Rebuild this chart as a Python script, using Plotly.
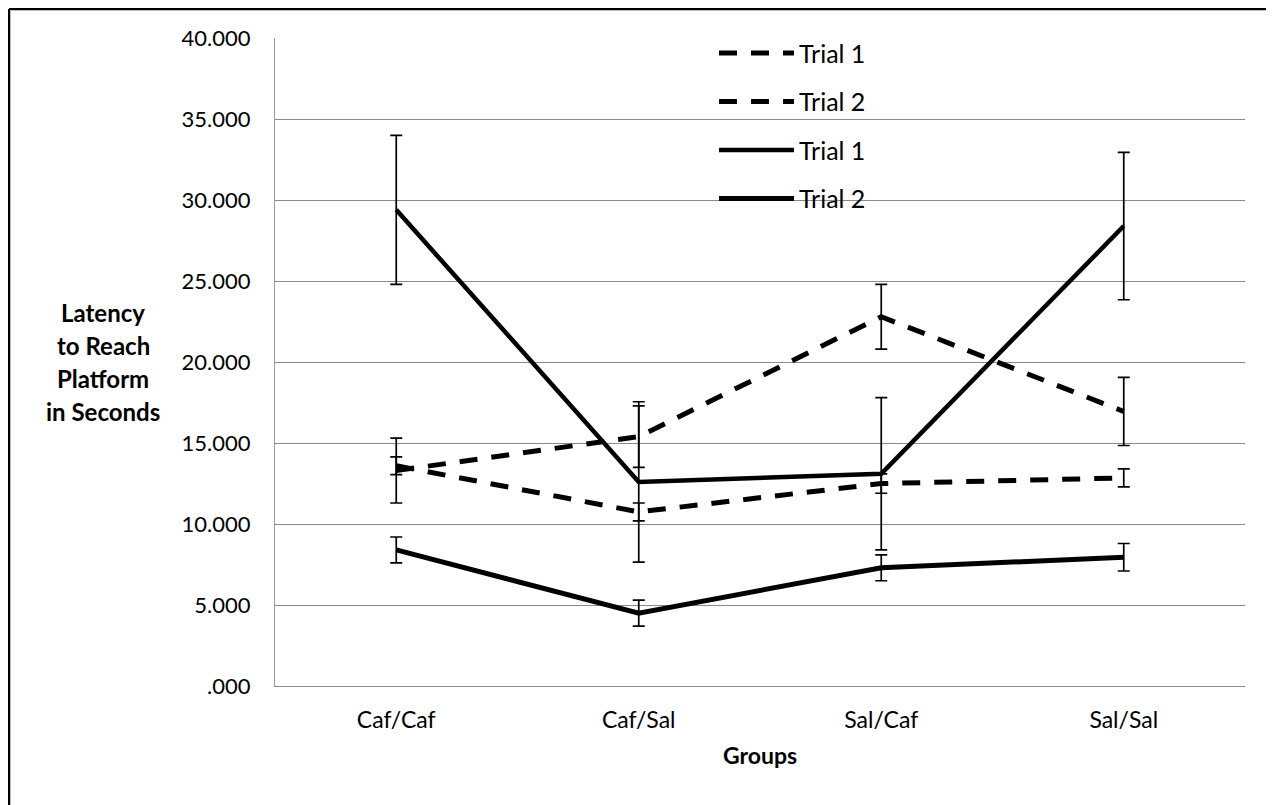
import plotly.graph_objects as go

groups = ["Caf/Caf", "Caf/Sal", "Sal/Caf", "Sal/Sal"]

# dashed series
dashed_trial1 = [13.3, 15.4, 22.8, 16.95]
dashed_trial1_err = [2.0, 1.9, 2.0, 2.1]
dashed_trial2 = [13.6, 10.75, 12.5, 12.85]
dashed_trial2_err = [0.55, 0.55, 0.6, 0.55]

# solid series
solid_trial1 = [29.4, 12.6, 13.1, 28.4]
solid_trial1_err = [4.6, 4.95, 4.7, 4.55]
solid_trial2 = [8.4, 4.5, 7.3, 7.95]
solid_trial2_err = [0.8, 0.8, 0.8, 0.85]

y_ticks = [0, 5, 10, 15, 20, 25, 30, 35, 40]
y_ticktext = [".000", "5.000", "10.000", "15.000", "20.000", "25.000", "30.000", "35.000", "40.000"]

FONT = "Lato, 'Open Sans', sans-serif"

series = [
    ("Trial 1", dashed_trial1, dashed_trial1_err, "18px,14px", 5),
    ("Trial 2", dashed_trial2, dashed_trial2_err, "18px,14px", 5),
    ("Trial 1", solid_trial1, solid_trial1_err, "solid", 4.5),
    ("Trial 2", solid_trial2, solid_trial2_err, "solid", 5),
]

fig = go.Figure()
for i, (name, vals, errs, dash, w) in enumerate(series):
    fig.add_trace(go.Scatter(
        x=groups, y=vals, name=name, mode="lines",
        line=dict(color="black", width=w, dash=dash),
        error_y=dict(type="data", array=errs, visible=True, color="black", thickness=1.7, width=6),
        legendgroup=f"g{i}",
    ))

ML, MR, MT, MB = 267, 37, 30, 127
PW = 1274 - ML - MR
PH = 805 - MT - MB

fig.update_layout(
    width=1274, height=805,
    margin=dict(l=ML, r=MR, t=MT, b=MB),
    paper_bgcolor="white", plot_bgcolor="white",
    font=dict(family=FONT, size=20, color="black"),
    showlegend=True,
    legend=dict(
        x=0.4526, y=1.012, xanchor="left", yanchor="top",
        bgcolor="rgba(0,0,0,0)", font=dict(size=25, family=FONT),
        tracegroupgap=13, itemwidth=75,
    ),
    xaxis=dict(
        type="category", range=[-0.5, 3.5],
        showgrid=False, zeroline=False,
        showline=True, linecolor="#8a8a8a", linewidth=1,
        ticks="outside", ticklen=13, tickcolor="rgba(0,0,0,0)",
        tickfont=dict(size=23),
        title=dict(text="<b>Groups</b>", font=dict(size=23), standoff=16),
    ),
    yaxis=dict(
        range=[0, 40.01], tickvals=y_ticks, ticktext=y_ticktext,
        showgrid=True, gridcolor="#8a8a8a", gridwidth=1,
        zeroline=False, showline=True, linecolor="#9a9a9a", linewidth=1,
        ticks="outside", ticklen=19, tickcolor="rgba(0,0,0,0)",
        tickfont=dict(size=22),
    ),
)

# y-axis title, horizontal, as in the reference
title_lines = ["Latency", "to Reach", "Platform", "in Seconds"]
for k, line in enumerate(title_lines):
    fig.add_annotation(
        text=f"<b>{line}</b>", xref="paper", yref="paper",
        x=-0.177, y=0.5, xanchor="center", yanchor="middle",
        yshift=(1.5 - k) * 33, showarrow=False, font=dict(size=24, family=FONT),
    )

# outer frame: strong left/top/bottom edges, faint right edge
fx0, fx1 = (1 - ML) / PW, (1264 - ML) / PW
fy0, fy1 = (PH + MT - 804) / PH, 1 + (MT - 1) / PH
for (x0, y0, x1, y1) in [(fx0, fy0, fx0, fy1), (fx0, fy1, fx1, fy1), (fx0, fy0, fx1, fy0)]:
    fig.add_shape(type="line", xref="paper", yref="paper", x0=x0, y0=y0, x1=x1, y1=y1,
                  line=dict(color="black", width=2.5), layer="above")
fig.add_shape(type="line", xref="paper", yref="paper", x0=fx1, y0=fy0, x1=fx1, y1=fy1,
              line=dict(color="#777777", width=1, dash="dot"), layer="above")

fig.write_html("out.html")
